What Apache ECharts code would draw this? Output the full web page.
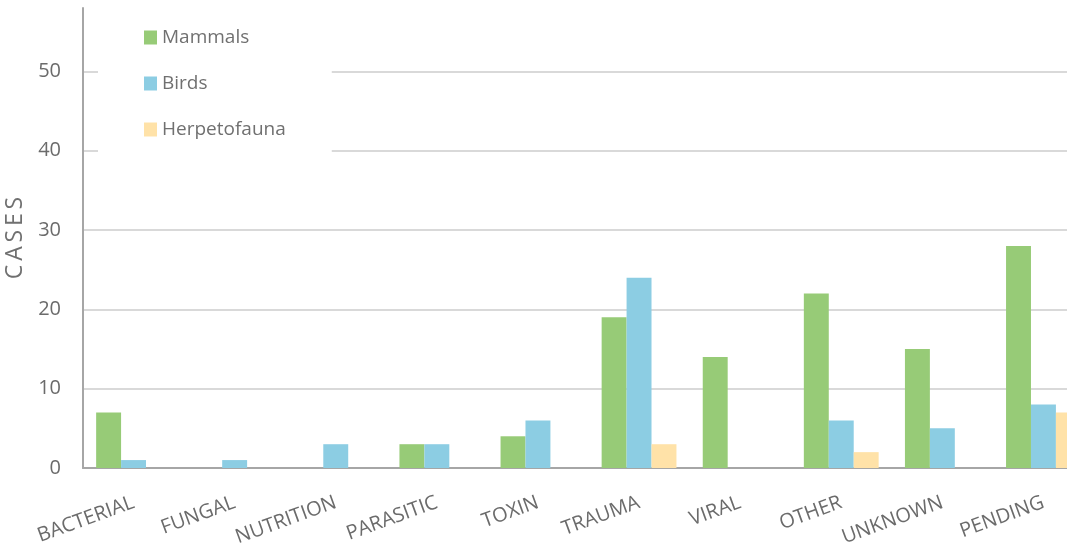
<!DOCTYPE html>
<html>
<head>
<meta charset="utf-8">
<script src="https://cdn.jsdelivr.net/npm/echarts@6/dist/echarts.min.js"></script>
<style>
  html, body { margin: 0; padding: 0; background: #fff; }
  #main { width: 1067px; height: 550px; }
</style>
</head>
<body>
<div id="main"></div>
<script>
var categories = ['BACTERIAL', 'FUNGAL', 'NUTRITION', 'PARASITIC', 'TOXIN', 'TRAUMA', 'VIRAL', 'OTHER', 'UNKNOWN', 'PENDING'];
var mammals = [7, 0, 0, 3, 4, 19, 14, 22, 15, 28];
var birds = [1, 1, 3, 3, 6, 24, 0, 6, 5, 8];
var herpetofauna = [0, 0, 0, 0, 0, 3, 0, 2, 0, 7];

var chart = echarts.init(document.getElementById('main'), null, { renderer: 'canvas' });

var font = 'Open Sans';
var grid = '#d9d9d9';

var option = {
  animation: false,
  color: ['#97cb77', '#8ccde3', '#ffe2a8'],
  textStyle: { fontFamily: font },
  legend: {
    orient: 'vertical',
    left: 98,
    top: 10,
    padding: [18, 46, 30, 46],
    backgroundColor: '#fff',
    itemWidth: 13,
    itemHeight: 14,
    itemGap: 27,
    icon: 'rect',
    z: 10,
    textStyle: { fontFamily: font, fontSize: 19, color: '#707070' },
    data: ['Mammals', 'Birds', 'Herpetofauna']
  },
  grid: {
    left: 83,
    top: 8,
    width: 1011,
    bottom: 82,
    outerBoundsMode: 'none'
  },
  xAxis: {
    type: 'category',
    data: categories,
    axisLine: { lineStyle: { color: '#a6a6a6', width: 2 } },
    axisTick: { show: false },
    axisLabel: {
      rotate: 20,
      margin: 34,
      interval: 0,
      fontFamily: font,
      fontSize: 20,
      color: '#6b6b6b'
    }
  },
  yAxis: {
    type: 'value',
    min: 0,
    max: 58,
    interval: 10,
    name: 'C\u2009A\u2009S\u2009E\u2009S',
    nameLocation: 'middle',
    nameGap: 49,
    nameRotate: 90,
    nameTextStyle: { fontFamily: font, fontSize: 23, color: '#707070' },
    axisLine: { show: true, lineStyle: { color: '#a6a6a6', width: 2 } },
    axisTick: { show: false },
    axisLabel: {
      showMaxLabel: false,
      margin: 22,
      fontFamily: font,
      fontSize: 20,
      color: '#6b6b6b'
    },
    splitLine: {
      lineStyle: {
        color: [grid, grid, grid, grid, grid, grid, 'rgba(0,0,0,0)'],
        width: 2
      }
    }
  },
  series: [
    { name: 'Mammals', type: 'bar', data: mammals, barGap: '0%', barCategoryGap: '26%' },
    { name: 'Birds', type: 'bar', data: birds, barGap: '0%', barCategoryGap: '26%' },
    { name: 'Herpetofauna', type: 'bar', data: herpetofauna, barGap: '0%', barCategoryGap: '26%' }
  ]
};

chart.setOption(option);
</script>
</body>
</html>
